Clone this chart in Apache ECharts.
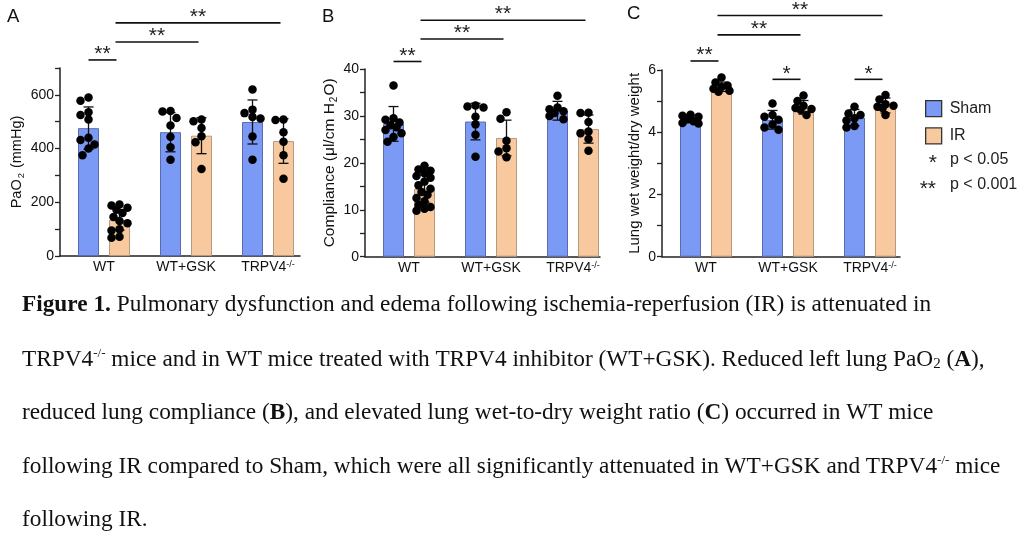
<!DOCTYPE html>
<html><head><meta charset="utf-8">
<script src="https://cdn.jsdelivr.net/npm/echarts@6/dist/echarts.min.js"></script>
<style>html,body{margin:0;padding:0;background:#fff}#c{width:1024px;height:551px}</style>
</head><body><div id="c"></div>
<script>
// ---------- DATA ----------
const groups = ['WT', 'WT+GSK', 'TRPV4-/-'];
const conditions = ['Sham', 'IR'];

// Panel A: PaO2 (mmHg)
const paO2ShamMean = [476, 461, 499];
const paO2ShamSD = [79, 73, 82];
const paO2IRMean = [134, 448, 428];
const paO2IRSD = [38, 67, 83];
const paO2ShamPts = [
  [590, 578, 535, 525, 508, 440, 432, 415, 400, 375],
  [540, 538, 514, 486, 444, 405, 358],
  [620, 545, 532, 518, 512, 445, 358]
];
const paO2IRPts = [
  [192, 188, 180, 172, 160, 145, 130, 122, 100, 95, 72, 68],
  [508, 502, 477, 446, 424, 324],
  [508, 506, 461, 425, 375, 288]
];
const paO2Ticks = [0, 200, 400, 600];
// brackets: [fromSlot, toSlot, height, label]; slots 0..5 = WT Sham, WT IR, GSK Sham, GSK IR, TRPV4 Sham, TRPV4 IR
const paO2Brackets = [[0, 1, 730, '**'], [1, 3, 797, '**'], [1, 5, 868, '**']];

// Panel B: Compliance (ul/cm H2O)
const complShamMean = [28.3, 28.8, 31.1];
const complShamSD = [3.7, 3.9, 2.0];
const complIRMean = [14.5, 25.3, 27.2];
const complIRSD = [2.9, 3.8, 3.0];
const complShamPts = [
  [36.5, 29.5, 29.2, 28.6, 28.0, 27.6, 27.0, 26.3, 25.5, 24.5],
  [32.2, 32.0, 31.8, 29.8, 28.2, 26.0, 21.3],
  [34.3, 31.8, 31.4, 31.0, 30.6, 30.0, 29.3]
];
const complIRPts = [
  [19.4, 18.6, 18.3, 17.8, 17.2, 16.8, 16.0, 15.2, 14.5, 13.8, 13.2, 12.5, 11.8, 11.0, 10.6, 10.2, 9.8],
  [30.8, 29.4, 24.7, 23.1, 22.4, 21.2],
  [30.7, 30.6, 28.7, 26.7, 26.3, 25.1, 22.6]
];
const complTicks = [0, 10, 20, 30, 40];
const complBrackets = [[0, 1, 41.6, '**'], [1, 3, 46.4, '**'], [1, 5, 50.4, '**']];

// Panel C: Lung wet weight / dry weight
const wdShamMean = [4.43, 4.40, 4.47];
const wdShamSD = [0.12, 0.30, 0.26];
const wdIRMean = [5.46, 4.80, 4.86];
const wdIRSD = [0.15, 0.22, 0.24];
const wdShamPts = [
  [4.56, 4.53, 4.50, 4.42, 4.35, 4.30, 4.28],
  [4.92, 4.55, 4.50, 4.40, 4.25, 4.15, 4.08],
  [4.82, 4.60, 4.55, 4.45, 4.38, 4.20, 4.15]
];
const wdIRPts = [
  [5.76, 5.60, 5.50, 5.45, 5.40, 5.33, 5.30],
  [5.18, 5.00, 4.85, 4.78, 4.75, 4.72, 4.55],
  [5.20, 5.05, 4.90, 4.85, 4.82, 4.78, 4.55]
];
const wdTicks = [0, 2, 4, 6];
const wdBrackets = [[0, 1, 6.29, '**'], [2, 3, 5.70, '*'], [4, 5, 5.70, '*'], [1, 3, 7.13, '**'], [1, 5, 7.75, '**']];

// ---------- LAYOUT / STYLE ----------
const FONT = '"Liberation Sans", Arial, sans-serif';
const SERIF = '"Liberation Serif", "Times New Roman", serif';
const INK = '#111';
const shamColor = '#7a9af5', shamBorder = '#5a6cae';
const irColor = '#f8c99f', irBorder = '#b8997c';
const firstSlot = 28.5, slotGap = 31, groupGap = 82;
const slotX = (g, c) => firstSlot + g * groupGap + c * slotGap;
const groupCenters = groups.map((_, g) => (slotX(g, 0) + slotX(g, 1)) / 2);
const slotOf = s => slotX(Math.floor(s / 2), s % 2);

const panels = [
  { left: 60, top: 68, width: 240, bottomY: 256, yMax: 700, yInt: 100, ticks: paO2Ticks,
    name: 'PaO{sub|2} (mmHg)', nameSize: 14.5, nameGap: 34,
    sm: paO2ShamMean, ss: paO2ShamSD, im: paO2IRMean, is: paO2IRSD, sp: paO2ShamPts, ip: paO2IRPts, br: paO2Brackets },
  { left: 365, top: 69, width: 235, bottomY: 256.7, yMax: 40, yInt: 5, ticks: complTicks,
    name: 'Compliance (μl/cm H{sub|2}O)', nameSize: 15.5, nameGap: 26,
    sm: complShamMean, ss: complShamSD, im: complIRMean, is: complIRSD, sp: complShamPts, ip: complIRPts, br: complBrackets },
  { left: 662, top: 70, width: 238, bottomY: 256.7, yMax: 6, yInt: 1, ticks: wdTicks,
    name: 'Lung wet weight/dry weight', nameSize: 15, nameGap: 12,
    sm: wdShamMean, ss: wdShamSD, im: wdIRMean, is: wdIRSD, sp: wdShamPts, ip: wdIRPts, br: wdBrackets }
];

function swarm(values, pxPerUnit, dotD) {
  const order = values.map((v, i) => i).sort((a, b) => values[b] - values[a]);
  const placed = [], off = new Array(values.length).fill(0);
  const cands = [0, -6, 6, -3, 3, -8, 8];
  for (const i of order) {
    const y = values[i] * pxPerUnit;
    let best = 0, bestD = -1;
    for (const c of cands) {
      let md = Infinity;
      for (const p of placed) md = Math.min(md, Math.hypot(p.x - c, p.y - y));
      if (md >= dotD) { best = c; break; }
      if (md > bestD) { bestD = md; best = c; }
    }
    placed.push({ x: best, y }); off[i] = best;
  }
  return off;
}

const grid = [], xAxis = [], yAxis = [], series = [];
panels.forEach((p, k) => {
  const h = p.bottomY - p.top;
  grid.push({ left: p.left, top: p.top, width: p.width, height: h });
  xAxis.push({
    type: 'value', gridIndex: k, min: 0, max: p.width,
    axisLine: { show: true, lineStyle: { color: '#222', width: 1.5 } },
    axisTick: { show: false }, splitLine: { show: false },
    axisLabel: {
      customValues: groupCenters, margin: 4, fontSize: 14, color: INK, fontFamily: FONT,
      formatter: v => {
        const g = groups[groupCenters.indexOf(v)] || '';
        return g.replace('-/-', '{sup|-/-}');
      },
      rich: { sup: { fontSize: 9, verticalAlign: 'top', lineHeight: 12, color: INK } }
    }
  });
  yAxis.push({
    type: 'value', gridIndex: k, min: 0, max: p.yMax, interval: p.yInt,
    axisLine: { show: true, lineStyle: { color: '#222', width: 1.5 } },
    axisTick: { show: true, length: 5, lineStyle: { color: '#222', width: 1.3 } },
    splitLine: { show: false },
    axisLabel: { margin: 6, fontSize: 14, color: INK, fontFamily: FONT,
      formatter: v => (p.ticks.indexOf(v) >= 0 ? String(v) : '') },
    name: p.name, nameLocation: 'middle', nameGap: p.nameGap,
    nameTextStyle: { fontSize: p.nameSize, color: INK, fontFamily: FONT, lineHeight: 18,
      rich: { sub: { fontSize: p.nameSize * 0.65, verticalAlign: 'bottom', color: INK, padding: [0, 1, 0, 1] } } }
  });
  const pxPerUnit = h / p.yMax;
  [[p.sm, p.ss, p.sp, 0], [p.im, p.is, p.ip, 1]].forEach(([mean, sd, pts, c]) => {
    series.push({
      type: 'bar', name: conditions[c], xAxisIndex: k, yAxisIndex: k, barWidth: 21, barGap: '-100%',
      itemStyle: { color: c ? irColor : shamColor, borderColor: c ? irBorder : shamBorder, borderWidth: 1 },
      data: mean.map((m, g) => [slotX(g, c), m]), z: 2, silent: true
    });
    series.push({
      type: 'custom', xAxisIndex: k, yAxisIndex: k, z: 3, silent: true,
      encode: { x: 0, y: 1 },
      data: mean.map((m, g) => [slotX(g, c), m, sd[g]]),
      renderItem: (params, api) => {
        const x = api.value(0), m = api.value(1), s = api.value(2);
        const t = api.coord([x, m + s]), b = api.coord([x, m - s]);
        const st = { stroke: '#111', lineWidth: 1.3 };
        return { type: 'group', children: [
          { type: 'line', shape: { x1: t[0], y1: t[1], x2: b[0], y2: b[1] }, style: st },
          { type: 'line', shape: { x1: t[0] - 5, y1: t[1], x2: t[0] + 5, y2: t[1] }, style: st },
          { type: 'line', shape: { x1: b[0] - 5, y1: b[1], x2: b[0] + 5, y2: b[1] }, style: st }
        ] };
      }
    });
    const sdata = [];
    pts.forEach((arr, g) => {
      const off = swarm(arr, pxPerUnit, 7);
      arr.forEach((v, i) => sdata.push([slotX(g, c) + off[i], v]));
    });
    series.push({
      type: 'scatter', xAxisIndex: k, yAxisIndex: k, symbolSize: 8.5, z: 4, silent: true,
      itemStyle: { color: '#000', opacity: 1 }, data: sdata
    });
  });
  series.push({
    type: 'custom', xAxisIndex: k, yAxisIndex: k, z: 5, clip: false, silent: true,
    encode: { x: [0, 1], y: 2 },
    data: p.br.map(b => [slotOf(b[0]) + (b[0] % 2 ? -4 : 0), slotOf(b[1]) - 3, b[2]]),
    renderItem: (params, api) => {
      const lab = p.br[params.dataIndex][3];
      const p1 = api.coord([api.value(0), api.value(2)]);
      const p2 = api.coord([api.value(1), api.value(2)]);
      return { type: 'group', children: [
        { type: 'line', shape: { x1: p1[0], y1: p1[1], x2: p2[0], y2: p2[1] }, style: { stroke: '#111', lineWidth: 1.6 } },
        { type: 'text', style: { text: lab, x: (p1[0] + p2[0]) / 2, y: p1[1] + 5, align: 'center', verticalAlign: 'bottom',
          font: '21px ' + FONT, fill: '#222' } }
      ] };
    }
  });
});

const capRich = {
  b: { fontFamily: SERIF, fontSize: 23.3, fontWeight: 'bold', fill: '#111', lineHeight: 30 },
  sup: { fontFamily: SERIF, fontSize: 13, verticalAlign: 'top', fill: '#111', lineHeight: 30, padding: [2, 0, 0, 0] },
  sub: { fontFamily: SERIF, fontSize: 15, verticalAlign: 'bottom', fill: '#111', lineHeight: 30, padding: [0, 0, 3, 0] }
};
const captionLines = [
  '{b|Figure 1.} Pulmonary dysfunction and edema following ischemia-reperfusion (IR) is attenuated in',
  'TRPV4{sup|-/-} mice and in WT mice treated with TRPV4 inhibitor (WT+GSK). Reduced left lung PaO{sub|2} ({b|A}),',
  'reduced lung compliance ({b|B}), and elevated lung wet-to-dry weight ratio ({b|C}) occurred in WT mice',
  'following IR compared to Sham, which were all significantly attenuated in WT+GSK and TRPV4{sup|-/-} mice',
  'following IR.'
];
const captionY = [305, 360, 413, 467, 520];

const graphic = [];
[['A', 7, 7], ['B', 322, 7], ['C', 627, 4]].forEach(([t, x, y]) =>
  graphic.push({ type: 'text', left: x, top: y, style: { text: t, font: '18.5px ' + FONT, fill: '#111' } }));
graphic.push({ type: 'text', x: 937, y: 163, style: { text: '*', font: '21px ' + FONT, fill: '#222', align: 'right', verticalAlign: 'middle' } });
graphic.push({ type: 'text', x: 950, y: 160, style: { text: 'p < 0.05', font: '16px ' + FONT, fill: '#222', align: 'left', verticalAlign: 'middle' } });
graphic.push({ type: 'text', x: 936, y: 189, style: { text: '**', font: '21px ' + FONT, fill: '#222', align: 'right', verticalAlign: 'middle' } });
graphic.push({ type: 'text', x: 950, y: 185, style: { text: 'p < 0.001', font: '16px ' + FONT, fill: '#222', align: 'left', verticalAlign: 'middle' } });
captionLines.forEach((t, i) => graphic.push({
  type: 'text', x: 22, y: captionY[i],
  style: { text: t, fontFamily: SERIF, fontSize: 23.3, fill: '#111', lineHeight: 30, verticalAlign: 'middle', align: 'left', rich: capRich }
}));

const chart = echarts.init(document.getElementById('c'), null, { renderer: 'canvas' });
chart.setOption({
  animation: false,
  backgroundColor: '#fff',
  textStyle: { fontFamily: FONT },
  grid, xAxis, yAxis, series, graphic,
  legend: {
    left: 920, top: 95, orient: 'vertical', itemWidth: 16, itemHeight: 16, itemGap: 10, icon: 'rect',
    data: conditions, selectedMode: false,
    itemStyle: { borderColor: '#333', borderWidth: 1.3 },
    textStyle: { fontSize: 16, color: '#222', fontFamily: FONT, padding: [0, 0, 0, 3] }
  }
});
</script></body></html>
